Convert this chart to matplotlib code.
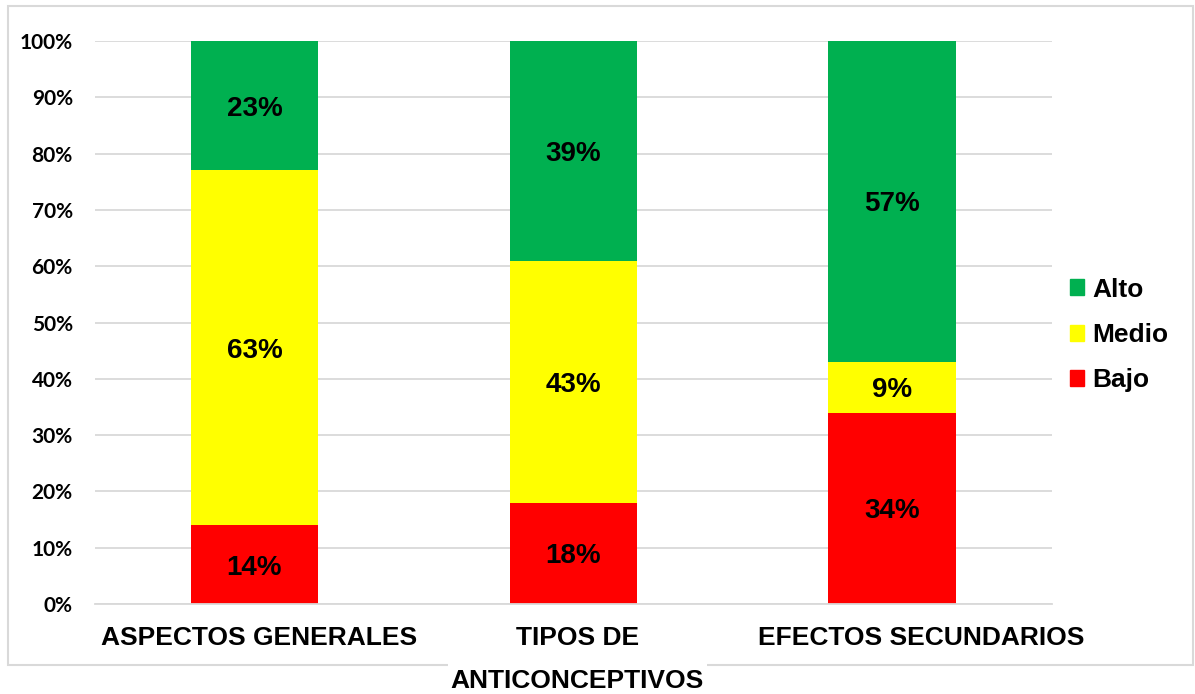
import matplotlib.pyplot as plt
from matplotlib.patches import Rectangle, Patch
from matplotlib.ticker import PercentFormatter
from matplotlib.transforms import ScaledTranslation

categorias = ['ASPECTOS GENERALES', 'TIPOS DE\nANTICONCEPTIVOS', 'EFECTOS SECUNDARIOS']
bajo = [14, 18, 34]
medio = [63, 43, 9]
alto = [23, 39, 57]
series = ['Bajo', 'Medio', 'Alto']
colores = {'Bajo': '#FF0000', 'Medio': '#FFFF00', 'Alto': '#00B050'}

fig = plt.figure(figsize=(11.95, 6.94), dpi=100)
ax = fig.add_axes([0.0795, 0.1297, 0.8005, 0.8112])

x = list(range(len(categorias)))
base = [0, 0, 0]
for nombre, vals in zip(series, [bajo, medio, alto]):
    bars = ax.bar(x, vals, bottom=base, width=0.4, color=colores[nombre], zorder=2)
    for b, v, y0 in zip(bars, vals, base):
        ax.text(b.get_x() + b.get_width() / 2, y0 + v / 2, f'{v}%', ha='center',
                va='center_baseline', fontsize=20, fontweight='bold',
                family='Liberation Sans', zorder=3)
    base = [a + v for a, v in zip(base, vals)]

ax.set_xlim(-0.5, 2.5)
ax.set_ylim(0, 100)
ax.set_yticks(range(0, 101, 10))
ax.yaxis.set_major_formatter(PercentFormatter(decimals=0))
ax.grid(axis='y', color='#D9D9D9', linewidth=1.3, zorder=0)
for s in ax.spines.values():
    s.set_visible(False)
ax.spines['bottom'].set_visible(True)
ax.spines['bottom'].set_color('#D9D9D9')
ax.spines['bottom'].set_linewidth(1.3)
ax.tick_params(length=0)
ax.tick_params(axis='y', pad=16)
ax.tick_params(axis='x', pad=15.5)
for t in ax.get_yticklabels():
    t.set_fontsize(15)
    t.set_fontweight('bold')
    t.set_family('Lato')

ax.set_xticks(x)
ax.set_xticklabels(categorias, fontsize=19, fontweight='bold', family='Liberation Sans',
                   linespacing=2.0)
# las etiquetas del original estan algo corridas a la derecha
desplaz = [0.05, 0.04, 0.29]
for t, d in zip(ax.get_xticklabels(), desplaz):
    t.set_transform(t.get_transform() + ScaledTranslation(d, 0, fig.dpi_scale_trans))
    t.set_bbox(dict(facecolor='white', edgecolor='none', pad=2))

handles = [Patch(color=colores[n]) for n in ['Alto', 'Medio', 'Bajo']]
ax.legend(handles, ['Alto', 'Medio', 'Bajo'], loc='center left', bbox_to_anchor=(0.994, 0.478),
          frameon=False, handlelength=0.55, handleheight=0.55, handletextpad=0.3,
          labelspacing=0.8, prop={'family': 'Liberation Sans', 'weight': 'bold', 'size': 19})

fig.patches.append(Rectangle((8 / 1195, 1 - 665 / 694), 1185 / 1195, 659 / 694,
                             transform=fig.transFigure, fill=False, edgecolor='#D9D9D9',
                             linewidth=1.5, zorder=-1))

fig.savefig('out.png', dpi=100)
